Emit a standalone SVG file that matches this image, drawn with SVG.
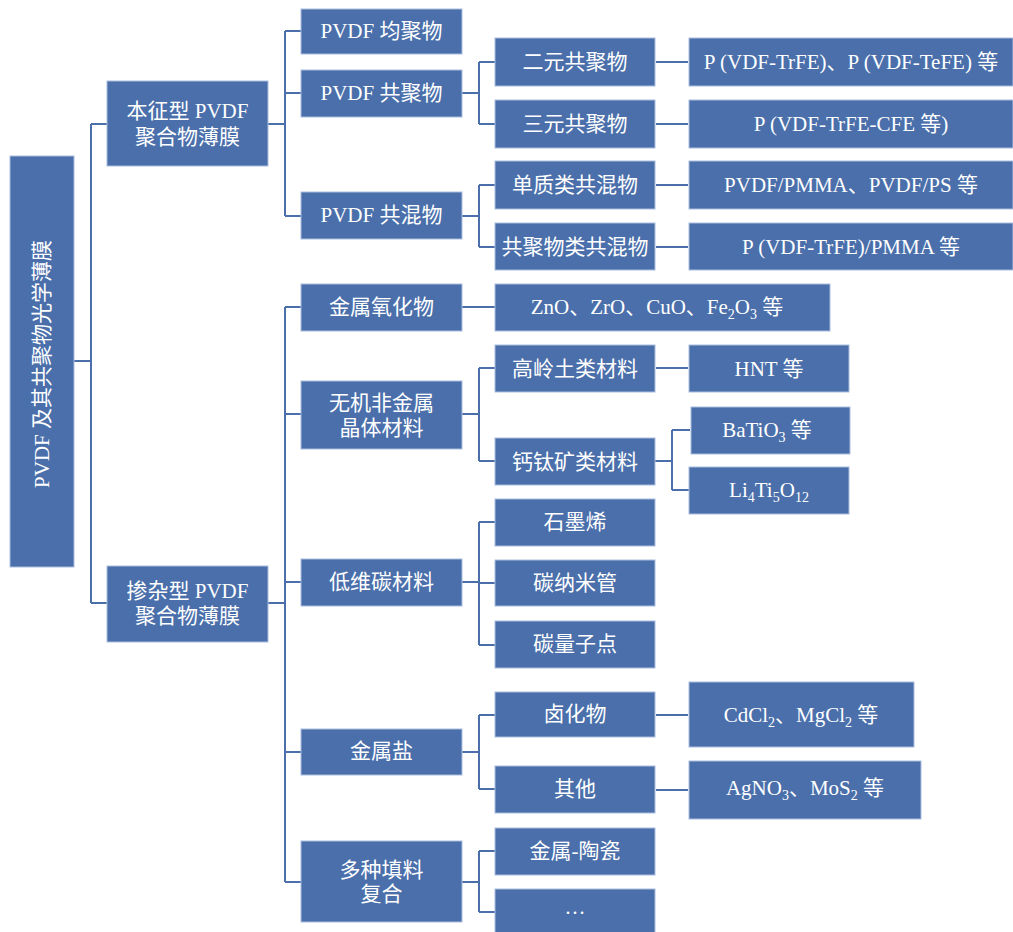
<svg xmlns="http://www.w3.org/2000/svg" width="1013" height="932" viewBox="0 0 1013 932">
<defs>
<style>
.box{fill:#4A6FAB;stroke:#A9BEDF;stroke-width:1}
.t{fill:#ffffff;font-family:"Liberation Serif","Noto Sans CJK SC",serif;font-size:21px;text-anchor:middle}
.c{fill:none;stroke:#4A6FAB;stroke-width:2}
.s{font-size:14px}
</style>
</defs>
<rect width="1013" height="932" fill="#ffffff"/>
<g id="connectors" class="c">
<path d="M74,361H91M91,124V603M91,124H107M91,603H107"/>
<path d="M268,124H285M285,31V216M285,31H301M285,93H301M285,216H301"/>
<path d="M462,93H479M479,62V124M479,62H495M479,124H495"/>
<path d="M462,216H479M479,185V247M479,185H495M479,247H495"/>
<path d="M656,62H688M656,124H688M656,185H688M656,247H688"/>
<path d="M268,603H285M285,307V882M285,307H301M285,414H301M285,582H301M285,752H301M285,882H301"/>
<path d="M462,307H495"/>
<path d="M462,414H479M479,368V461M479,368H495M479,461H495"/>
<path d="M656,368H688"/>
<path d="M655,461H672M672,430V490M672,430H690M672,490H689"/>
<path d="M462,582H479M479,522V645M479,522H495M479,583H495M479,645H495"/>
<path d="M462,752H479M479,715V789M479,715H495M479,789H495"/>
<path d="M656,715H688M656,790H688"/>
<path d="M462,882H479M479,851V912M479,851H495M479,912H495"/>
</g>
<g id="root"><rect class="box" x="10" y="156" width="64" height="411"/><text class="t" transform="translate(49,364) rotate(-90)">PVDF 及其共聚物光学薄膜</text></g>
<g id="n-intrinsic"><rect class="box" x="107" y="81" width="161" height="85"/><text class="t" x="187.5" y="118">本征型 PVDF</text><text class="t" x="187.5" y="144">聚合物薄膜</text></g>
<g id="n-doped"><rect class="box" x="107" y="566" width="161" height="76"/><text class="t" x="187.5" y="598">掺杂型 PVDF</text><text class="t" x="187.5" y="623">聚合物薄膜</text></g>
<g id="n-homo"><rect class="box" x="301" y="9" width="161" height="45"/><text class="t" x="381.5" y="38">PVDF 均聚物</text></g>
<g id="n-copoly"><rect class="box" x="301" y="70" width="161" height="47"/><text class="t" x="381.5" y="100">PVDF 共聚物</text></g>
<g id="n-blend"><rect class="box" x="301" y="192" width="161" height="47"/><text class="t" x="381.5" y="222">PVDF 共混物</text></g>
<g id="n-bin"><rect class="box" x="495" y="38" width="160" height="48"/><text class="t" x="575" y="69">二元共聚物</text></g>
<g id="n-ter"><rect class="box" x="495" y="100" width="160" height="48"/><text class="t" x="575" y="131">三元共聚物</text></g>
<g id="n-single"><rect class="box" x="495" y="161" width="160" height="48"/><text class="t" x="575" y="192">单质类共混物</text></g>
<g id="n-coblend"><rect class="box" x="495" y="223" width="160" height="47"/><text class="t" x="575" y="254">共聚物类共混物</text></g>
<g id="n-bin-ex"><rect class="box" x="689" y="38" width="324" height="48"/><text class="t" x="851" y="69">P (VDF-TrFE)、P (VDF-TeFE) 等</text></g>
<g id="n-ter-ex"><rect class="box" x="689" y="100" width="324" height="48"/><text class="t" x="851" y="131">P (VDF-TrFE-CFE 等)</text></g>
<g id="n-single-ex"><rect class="box" x="689" y="161" width="324" height="48"/><text class="t" x="851" y="192">PVDF/PMMA、PVDF/PS 等</text></g>
<g id="n-coblend-ex"><rect class="box" x="689" y="223" width="324" height="47"/><text class="t" x="851" y="254">P (VDF-TrFE)/PMMA 等</text></g>
<g id="n-oxide"><rect class="box" x="301" y="284" width="161" height="47"/><text class="t" x="381.5" y="314">金属氧化物</text></g>
<g id="n-oxide-ex"><rect class="box" x="495" y="284" width="335" height="47"/><text class="t" x="657" y="314">ZnO、ZrO、CuO、Fe<tspan class="s" dy="5">2</tspan><tspan dy="-5">O</tspan><tspan class="s" dy="5">3</tspan><tspan dy="-5"> 等</tspan></text></g>
<g id="n-inorg"><rect class="box" x="301" y="381" width="161" height="68"/><text class="t" x="381.5" y="410">无机非金属</text><text class="t" x="381.5" y="435">晶体材料</text></g>
<g id="n-kaolin"><rect class="box" x="495" y="345" width="160" height="47"/><text class="t" x="575" y="376">高岭土类材料</text></g>
<g id="n-hnt"><rect class="box" x="689" y="345" width="160" height="47"/><text class="t" x="769" y="376">HNT 等</text></g>
<g id="n-perov"><rect class="box" x="495" y="438" width="160" height="47"/><text class="t" x="575" y="469">钙钛矿类材料</text></g>
<g id="n-bto"><rect class="box" x="691" y="407" width="159" height="47"/><text class="t" x="767" y="437">BaTiO<tspan class="s" dy="5">3</tspan><tspan dy="-5"> 等</tspan></text></g>
<g id="n-lto"><rect class="box" x="689" y="467" width="160" height="47"/><text class="t" x="769" y="497">Li<tspan class="s" dy="5">4</tspan><tspan dy="-5">Ti</tspan><tspan class="s" dy="5">5</tspan><tspan dy="-5">O</tspan><tspan class="s" dy="5">12</tspan></text></g>
<g id="n-carbon"><rect class="box" x="301" y="559" width="161" height="47"/><text class="t" x="381.5" y="589">低维碳材料</text></g>
<g id="n-graphene"><rect class="box" x="495" y="499" width="160" height="47"/><text class="t" x="575" y="529">石墨烯</text></g>
<g id="n-cnt"><rect class="box" x="495" y="560" width="160" height="46"/><text class="t" x="575" y="590">碳纳米管</text></g>
<g id="n-cqd"><rect class="box" x="495" y="621" width="160" height="47"/><text class="t" x="575" y="651">碳量子点</text></g>
<g id="n-salt"><rect class="box" x="301" y="729" width="161" height="46"/><text class="t" x="381.5" y="758">金属盐</text></g>
<g id="n-halide"><rect class="box" x="495" y="692" width="160" height="45"/><text class="t" x="575" y="721">卤化物</text></g>
<g id="n-other"><rect class="box" x="495" y="766" width="160" height="47"/><text class="t" x="575" y="796">其他</text></g>
<g id="n-halide-ex"><rect class="box" x="689" y="682" width="225" height="65"/><text class="t" x="801" y="722">CdCl<tspan class="s" dy="5">2</tspan><tspan dy="-5">、MgCl</tspan><tspan class="s" dy="5">2</tspan><tspan dy="-5"> 等</tspan></text></g>
<g id="n-other-ex"><rect class="box" x="689" y="761" width="232" height="58"/><text class="t" x="805" y="795">AgNO<tspan class="s" dy="5">3</tspan><tspan dy="-5">、MoS</tspan><tspan class="s" dy="5">2</tspan><tspan dy="-5"> 等</tspan></text></g>
<g id="n-multi"><rect class="box" x="301" y="841" width="161" height="81"/><text class="t" x="381.5" y="877">多种填料</text><text class="t" x="381.5" y="901">复合</text></g>
<g id="n-metceram"><rect class="box" x="495" y="828" width="160" height="47"/><text class="t" x="575" y="858">金属-陶瓷</text></g>
<g id="n-etc"><rect class="box" x="495" y="889" width="160" height="48"/><text class="t" x="575" y="914">…</text></g>
</svg>
